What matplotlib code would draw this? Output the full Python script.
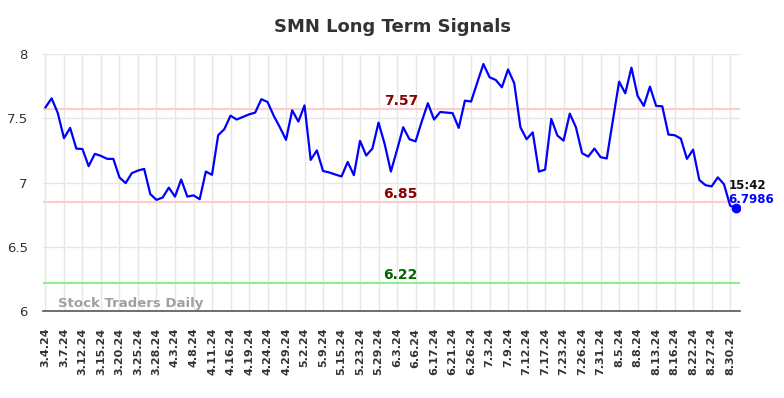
import numpy as np
import matplotlib.pyplot as plt

# SMN closing prices, one per trading session
prices = [
    7.585, 7.655, 7.54, 7.345, 7.425, 7.264, 7.26, 7.127, 7.223, 7.207,
    7.184, 7.184, 7.039, 6.995, 7.073, 7.093, 7.106, 6.909, 6.865, 6.883,
    6.96, 6.89, 7.023, 6.89, 6.90, 6.87, 7.085, 7.06, 7.368, 7.415,
    7.52, 7.49, 7.51, 7.53, 7.544, 7.648, 7.627, 7.52, 7.43, 7.332,
    7.562, 7.474, 7.60, 7.176, 7.25, 7.09, 7.078, 7.062, 7.047, 7.16,
    7.057, 7.324, 7.21, 7.264, 7.466, 7.298, 7.085, 7.254, 7.43, 7.337,
    7.32, 7.474, 7.617, 7.49, 7.549, 7.544, 7.54, 7.425, 7.637, 7.63,
    7.777, 7.922, 7.819, 7.798, 7.741, 7.88, 7.772, 7.43, 7.337, 7.39,
    7.085, 7.10, 7.495, 7.365, 7.326, 7.536, 7.43, 7.228, 7.202, 7.264,
    7.197, 7.187, 7.487, 7.785, 7.694, 7.894, 7.674, 7.596, 7.746, 7.596,
    7.593, 7.373, 7.368, 7.342, 7.184, 7.256, 7.02, 6.979, 6.97, 7.04,
    6.987, 6.82, 6.7986,
]

tick_labels = [
    "3.4.24", "3.7.24", "3.12.24", "3.15.24", "3.20.24", "3.25.24", "3.28.24",
    "4.3.24", "4.8.24", "4.11.24", "4.16.24", "4.19.24", "4.24.24", "4.29.24",
    "5.2.24", "5.9.24", "5.15.24", "5.23.24", "5.29.24", "6.3.24", "6.6.24",
    "6.17.24", "6.21.24", "6.26.24", "7.3.24", "7.9.24", "7.12.24", "7.17.24",
    "7.23.24", "7.26.24", "7.31.24", "8.5.24", "8.8.24", "8.13.24", "8.16.24",
    "8.22.24", "8.27.24", "8.30.24",
]
tick_step = 3

resistance = [7.57, 6.85]
support = 6.22
last_time = "15:42"

x = np.arange(len(prices))

fig = plt.figure(figsize=(7.84, 3.98), dpi=100)
ax = fig.add_axes([43/784, 1-311/398, 697/784, 257/398])

ax.set_xticks(np.arange(len(tick_labels)) * tick_step)
ax.set_xticklabels(tick_labels, rotation=90, fontsize=8, fontweight='bold', color='#333333')
ax.set_yticks([6, 6.5, 7, 7.5, 8])
ax.set_yticklabels(["6", "6.5", "7", "7.5", "8"], fontsize=9.5, color='#333333')
ax.grid(True, color='#e6e6e6', linewidth=1)
ax.set_axisbelow(True)
ax.tick_params(axis='x', length=0, pad=12)
ax.tick_params(axis='y', length=0, pad=11)
for s in ['top', 'right', 'left']:
    ax.spines[s].set_visible(False)
ax.spines['bottom'].set_color('#555555')
ax.spines['bottom'].set_linewidth(1.2)

# level labels sit just above their lines
mid = 57.6
for r in resistance:
    ax.axhline(r, color='#ffcccc', linewidth=1.5, zorder=2)
    ax.text(mid, r + 0.062, f"{r:.2f}", color='#8b0000', fontsize=10,
            fontweight='bold', ha='center', va='center')
ax.axhline(support, color='#90ee90', linewidth=1.5, zorder=2)
ax.text(mid, support + 0.062, f"{support:.2f}", color='#006400', fontsize=10,
        fontweight='bold', ha='center', va='center')

ax.plot(x, prices, color='#0000ff', linewidth=1.6, zorder=3)
ax.plot(x[-1], prices[-1], 'o', color='#0000ff', markersize=6, zorder=4)
ax.text(x[-1] - 1.3, prices[-1] + 0.13, last_time, fontsize=8.5, fontweight='bold',
        color='#111111', ha='left', va='bottom')
ax.text(x[-1] - 1.3, prices[-1] + 0.02, f"{prices[-1]:.4f}", fontsize=8.5,
        fontweight='bold', color='#0000ff', ha='left', va='bottom')

ax.text(2, 6.01, "Stock Traders Daily", fontsize=9.5, fontweight='bold',
        color='#a0a0a0', ha='left', va='bottom')

ax.set_xlim(-0.4, 112.6)
ax.set_ylim(6, 8)

fig.suptitle("SMN Long Term Signals", fontsize=13, fontweight='bold',
             color='#333333', y=0.955)

fig.savefig("out.png", dpi=100)
